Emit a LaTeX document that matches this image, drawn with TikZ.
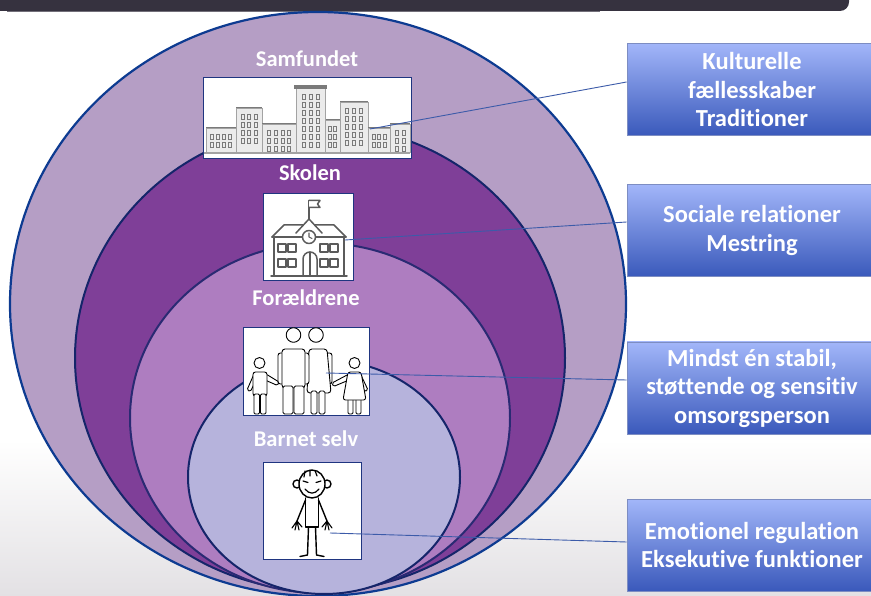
\documentclass[tikz,border=0pt]{standalone}
\usepackage{fontspec}
\setmainfont[Ligatures=NoCommon, RawFeature={-liga;-clig;-dlig;-calt}]{Carlito}
\definecolor{barcol}{HTML}{36323F}
\definecolor{bggray}{HTML}{E3E1E4}
\definecolor{ringA}{HTML}{B59EC5}
\definecolor{ringB}{HTML}{7F3F98}
\definecolor{ringC}{HTML}{AE7DC0}
\definecolor{ringD}{HTML}{B6B3DC}
\definecolor{edgeOuter}{HTML}{0D3B91}
\definecolor{edgeInner}{HTML}{15256A}
\definecolor{infotop}{HTML}{A2B6F9}
\definecolor{infobot}{HTML}{3A59BB}
\definecolor{infoedge}{HTML}{7D8DC2}
\definecolor{linkblue}{HTML}{3C5BA9}
\definecolor{boxnavy}{HTML}{1F3580}
\definecolor{iconGray}{HTML}{5B5B5B}
\definecolor{bldFill}{HTML}{EBEBEB}
\definecolor{bldLine}{HTML}{A3A3A3}
\definecolor{winCol}{HTML}{7A7A7A}

% one building of the skyline: x, width, top, window columns, window rows
\newcommand\skybuilding[5]{%
  \draw[bldLine, fill=bldFill, line width=0.6pt] (#1,#3) rectangle (#1+#2,152);
  \draw[winCol, line width=1pt] (#1,#3) -- (#1+#2,#3);
  \foreach \c in {1,...,#4}{
    \foreach \r in {1,...,#5}{
      \draw[winCol, line width=0.5pt] ({#1+\c*#2/(#4+1)-1.5},{#3+6+(\r-1)*8}) rectangle ++(3,5);
    }
  }%
}

\begin{document}
\begin{tikzpicture}[x=1pt,y=-1pt,
  ringline/.style={draw=edgeInner, line width=2pt},
  ringlabel/.style={text=white, font=\bfseries\fontsize{22.5}{26}\selectfont},
  picbox/.style={draw=boxnavy, fill=white, line width=0.9pt, inner sep=0pt},
  infobox/.style={draw=infoedge, line width=0.8pt, top color=infotop, bottom color=infobot,
    text=white, align=center, font=\bfseries\fontsize{24.5}{28.5}\selectfont,
    minimum width=250pt, minimum height=92pt, inner sep=0pt},
  link/.style={draw=linkblue, line width=0.9pt},
  icon/.style={draw=iconGray, line width=1.5pt, line join=round, line cap=round},
  fig/.style={draw=black, fill=white, line width=0.9pt, line join=round},
  stick/.style={draw=black, line width=1.4pt, line cap=round, line join=round}]

\useasboundingbox (0,0) rectangle (871,596);
\clip (0,0) rectangle (871,596);

% page background and header bar
\fill[white] (0,0) rectangle (871,596);
\shade[top color=white, bottom color=bggray] (0,440) rectangle (871,596);
\fill[barcol, rounded corners=9] (-20,-20) rectangle (849,11);
\draw[barcol!70!white, line width=0.8pt] (7,11) -- (600,11);

% nested circles
\draw[draw=edgeOuter, line width=2.2pt, fill=ringA] (318,304) ellipse [x radius=308, y radius=292];
\draw[ringline, fill=ringB] (320,358) ellipse [x radius=245, y radius=233];
\draw[ringline, draw=edgeInner!80!ringB, fill=ringC] (320,418) ellipse [x radius=190, y radius=175];
\draw[ringline, fill=ringD] (324,477) ellipse [x radius=136, y radius=117];

% circle titles
\node[ringlabel] (lblSociety) at (307,59) {Samfundet};
\node[ringlabel] (lblSchool) at (310,173) {Skolen};
\node[ringlabel] (lblParents) at (306,298) {Forældrene};
\node[ringlabel] (lblChild) at (306,439) {Barnet selv};

% ---------- society: town skyline ----------
\node[picbox, minimum width=208pt, minimum height=81pt] (skybox) at (307,117.5) {};
\skybuilding{206}{30}{128}{4}{2}
\skybuilding{236}{26}{108}{3}{4}
\skybuilding{262}{34}{124}{4}{3}
\skybuilding{325}{15}{120}{2}{3}
\skybuilding{340}{28}{102}{3}{5}
\skybuilding{368}{22}{128}{3}{2}
\skybuilding{390}{20}{124}{2}{3}
\skybuilding{296}{29}{88}{3}{7}
\fill[winCol] (294,85) rectangle (327,89);
\fill[bldLine] (204,152) rectangle (410,154.5);

% ---------- school ----------
\node[picbox, minimum width=90pt, minimum height=87pt] (schoolbox) at (308,236.5) {};
\draw[icon] (309,219) -- (309,200.5);
\draw[icon, fill=white] (309,200.5) -- (320,200.5) -- (317.5,204) -- (320,207.5) -- (309,207.5);
\draw[icon] (296,233) -- (309,219) -- (322,233);
\draw[icon] (272,237) -- (284,225) -- (303.4,225);
\draw[icon] (314.6,225) -- (334,225) -- (346,237);
\draw[icon] (272,237) -- (346,237);
\draw[icon] (274,237) -- (274,276);
\draw[icon] (344,237) -- (344,276);
\draw[icon] (271,276) -- (347,276);
\foreach \wx in {278,288,320,330}{
  \foreach \wy in {244,259}{
    \draw[icon, line width=1.4pt] (\wx,\wy) rectangle ++(8,8);
  }
}
\draw[icon] (303,276) -- (303,259) arc[start angle=180, end angle=360, radius=7] -- (317,276);
\draw[icon] (310,252) -- (310,276);
\draw[icon, fill=white] (309,237) circle (6.5);
\draw[icon, line width=1.1pt] (309,237) -- (309,233) (309,237) -- (312,238.5);

% ---------- parents with children ----------
\node[picbox, minimum width=126pt, minimum height=88pt] (familybox) at (306,371) {};
% mother
\draw[fig, rounded corners=2.5] (326,353) rectangle (332,384);
\draw[fig, rounded corners=3] (309,349) -- (327,349) -- (331,393) -- (307,393) -- cycle;
\draw[fig, rounded corners=1.5] (311,391) rectangle (317,414);
\draw[fig, rounded corners=1.5] (319,391) rectangle (325,414);
\draw[fig] (316,335) circle (7.3);
% father
\draw[fig, rounded corners=2.5] (278,353) rectangle (285,384);
\draw[fig, rounded corners=2.5] (302,353) rectangle (309,384);
\draw[fig, rounded corners=3] (282,349) rectangle (305,388);
\draw[fig, rounded corners=1.5] (283,386) rectangle (293,414);
\draw[fig, rounded corners=1.5] (294,386) rectangle (304,414);
\draw[fig] (293.5,335) circle (7.3);
% boy
\draw[fig, rounded corners=1.5] (254,374) -- (247,390) -- (250.5,391.5) -- (256,380) -- cycle;
\draw[fig, rounded corners=1.5] (266,374) -- (279,382) -- (277.5,385.5) -- (265,380) -- cycle;
\draw[fig, rounded corners=2.5] (253,372) rectangle (267,396);
\draw[fig, rounded corners=1.2] (254,394) rectangle (259.5,414);
\draw[fig, rounded corners=1.2] (260.5,394) rectangle (266,414);
\draw[fig] (259.5,363) circle (5.5);
% girl
\draw[fig, rounded corners=1.5] (349,374) -- (332,383) -- (333.5,386.5) -- (349,380) -- cycle;
\draw[fig, rounded corners=1.5] (360,373) -- (368,390) -- (364.5,391.5) -- (358,380) -- cycle;
\draw[fig, rounded corners=1.2] (348,398) rectangle (353,414);
\draw[fig, rounded corners=1.2] (356,398) rectangle (361,414);
\draw[fig, rounded corners=2.5] (348,372) -- (361,372) -- (366,400) -- (343,400) -- cycle;
\draw[fig] (354.5,363) circle (5.5);

% ---------- the child ----------
\node[picbox, minimum width=98pt, minimum height=97pt] (childbox) at (312,511) {};
\draw[stick] (297,484) circle (4);
\draw[stick] (327,484) circle (4);
\draw[stick, fill=white] (312,484) ellipse [x radius=13, y radius=14];
\draw[stick, line width=1.2pt] (305,471) -- (304,477) (310,470) -- (310,476) (315,470.5) -- (317,476);
\draw[stick, line width=1.2pt] (303,481) -- (308,482.5) (316,482.5) -- (321,481);
\draw[stick, line width=1.2pt] (305,489) .. controls (309,494.5) and (315,494.5) .. (319,489);
\draw[stick] (305.5,498) -- (305.5,527) -- (318.5,527) -- (318.5,498);
\draw[stick] (305.5,500) -- (297,521);
\draw[stick, line width=1.1pt] (297,521) -- (292,528) (297,521) -- (295,530) (297,521) -- (299,530) (297,521) -- (302,527);
\draw[stick] (318.5,500) -- (327,521);
\draw[stick, line width=1.1pt] (327,521) -- (332,528) (327,521) -- (329,530) (327,521) -- (325,530) (327,521) -- (322,527);
\draw[stick] (308.5,527) -- (307.5,555) -- (300,556.5);
\draw[stick] (315.5,527) -- (316.5,555) -- (324,556.5);

% ---------- descriptions ----------
\node[infobox] (info1) at (752,89.5) {Kulturelle\\fællesskaber\\Traditioner};
\node[infobox] (info2) at (752,230.5) {Sociale relationer\\Mestring};
\node[infobox] (info3) at (752,388) {Mindst én stabil,\\støttende og sensitiv\\omsorgsperson};
\node[infobox] (info4) at (752,545) {Emotionel regulation\\Eksekutive funktioner};

% ---------- connectors ----------
\coordinate (skyP) at (370,129);
\coordinate (schoolP) at (345,240);
\coordinate (familyP) at (326,373);
\coordinate (childP) at (330,533);
\draw[link] (skyP) -- ([yshift=7.5pt]info1.west);
\draw[link] (schoolP) -- ([yshift=8.5pt]info2.west);
\draw[link] (familyP) -- ([yshift=8pt]info3.west);
\draw[link] (childP) -- ([yshift=3pt]info4.west);

\end{tikzpicture}
\end{document}
